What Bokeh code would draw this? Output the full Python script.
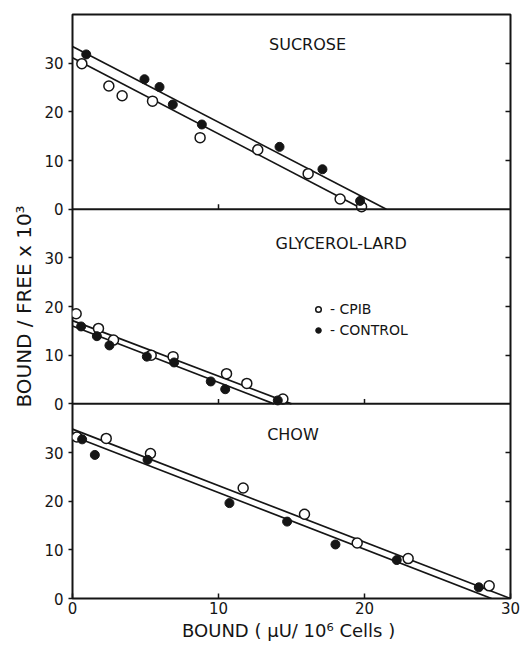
from bokeh.plotting import figure
from bokeh.models import (LinearAxis, Label, Legend, LegendItem, FixedTicker,
                          Range1d, Span)
from bokeh.embed import file_html
from bokeh.resources import INLINE

FONT = "DejaVu Sans"
INK = "#151515"

# ---------------- data ----------------
# SUCROSE
suc_cpib_x = [0.64, 2.49, 3.40, 5.48, 8.74, 12.69, 16.14, 18.33, 19.8]
suc_cpib_y = [29.9, 25.3, 23.3, 22.2, 14.7, 12.2, 7.3, 2.1, 0.5]
suc_ctrl_x = [0.94, 4.93, 5.96, 6.87, 8.86, 14.18, 17.12, 19.70]
suc_ctrl_y = [31.8, 26.7, 25.1, 21.5, 17.4, 12.8, 8.2, 1.7]
suc_cpib_fit_x = [0.0, 19.9]
suc_cpib_fit_y = [31.1, 0.0]
suc_ctrl_fit_x = [0.0, 21.5]
suc_ctrl_fit_y = [33.4, 0.0]

# GLYCEROL-LARD
gly_cpib_x = [0.25, 1.78, 2.81, 5.39, 6.89, 10.55, 11.94, 14.41]
gly_cpib_y = [18.5, 15.5, 13.1, 10.0, 9.7, 6.2, 4.2, 1.0]
gly_ctrl_x = [0.59, 1.67, 2.53, 5.09, 6.96, 9.47, 10.46, 14.06]
gly_ctrl_y = [15.9, 13.9, 12.0, 9.7, 8.5, 4.6, 3.0, 0.7]
gly_cpib_fit_x = [0.0, 15.0]
gly_cpib_fit_y = [17.1, 0.0]
gly_ctrl_fit_x = [0.0, 13.8]
gly_ctrl_fit_y = [16.0, 0.0]

# CHOW
chow_cpib_x = [0.30, 2.31, 5.34, 11.69, 15.89, 19.50, 22.99, 28.54]
chow_cpib_y = [33.2, 32.9, 29.8, 22.7, 17.3, 11.4, 8.2, 2.6]
chow_ctrl_x = [0.66, 1.53, 5.14, 10.75, 14.70, 18.01, 22.21, 27.83]
chow_ctrl_y = [32.7, 29.5, 28.5, 19.6, 15.8, 11.1, 7.9, 2.3]
chow_cpib_fit_x = [0.0, 30.0]
chow_cpib_fit_y = [34.8, 0.0]
chow_ctrl_fit_x = [0.0, 28.7]
chow_ctrl_fit_y = [33.4, 0.0]

y_ticks = [0, 10, 20, 30]
x_ticks = [0, 10, 20, 30]
inner_x_ticks = [10, 20]
panel_names = ["SUCROSE", "GLYCEROL-LARD", "CHOW"]
legend_labels = ["- CPIB", "- CONTROL"]
PANEL_SPAN = 40          # each panel's y axis runs 0..40
N_PANELS = 3
TOTAL = PANEL_SPAN * N_PANELS

p = figure(frame_width=438, frame_height=584,
           x_range=Range1d(0, 30), y_range=Range1d(0, TOTAL),
           output_backend="svg", toolbar_location=None,
           x_axis_location=None, y_axis_location=None,
           min_border_left=72, min_border_right=10,
           min_border_top=14, min_border_bottom=0)
p.grid.visible = False
p.outline_line_color = INK
p.outline_line_width = 2
p.background_fill_color = "white"
p.border_fill_color = "white"

# each panel gets its own y range, stacked from the top
range_names = ["suc", "gly", "chow"]
for i, name in enumerate(range_names):
    below = (N_PANELS - 1 - i) * PANEL_SPAN
    p.extra_y_ranges[name] = Range1d(-below, TOTAL - below)

# left axis: 0,10,20,30 repeated for each panel
left_ticks, left_over = [], {}
for k in range(N_PANELS):
    for t in y_ticks:
        pos = k * PANEL_SPAN + t
        left_ticks.append(pos)
        left_over[pos] = str(t)
la = LinearAxis(ticker=FixedTicker(ticks=left_ticks),
                major_label_overrides=left_over,
                major_tick_out=4, major_tick_in=0,
                minor_tick_out=0, minor_tick_in=0,
                major_tick_line_width=1.5, major_tick_line_color=INK,
                axis_line_color=None,
                major_label_standoff=5,
                major_label_text_font=FONT,
                major_label_text_font_size="15px",
                major_label_text_color=INK,
                axis_label="BOUND / FREE x 10\u00b3",
                axis_label_text_font=FONT,
                axis_label_text_font_size="20px",
                axis_label_text_font_style="normal",
                axis_label_text_color=INK,
                axis_label_standoff=5)
p.add_layout(la, "left")

right_ticks = [t for t in left_ticks if t % PANEL_SPAN != 0]
ra = LinearAxis(ticker=FixedTicker(ticks=right_ticks),
                major_label_overrides={t: "" for t in right_ticks},
                major_tick_out=0, major_tick_in=5,
                minor_tick_out=0, minor_tick_in=0,
                major_tick_line_width=1.5, major_tick_line_color=INK,
                axis_line_color=None, major_label_standoff=0)
p.add_layout(ra, "right")

ba = LinearAxis(ticker=FixedTicker(ticks=x_ticks),
                major_tick_out=0, major_tick_in=5,
                minor_tick_out=0, minor_tick_in=0,
                major_tick_line_width=1.5, major_tick_line_color=INK,
                axis_line_color=None,
                major_label_standoff=3,
                major_label_text_font=FONT,
                major_label_text_font_size="15px",
                major_label_text_color=INK,
                axis_label="BOUND  ( \u03bcU/ 10\u2076 Cells )",
                axis_label_text_font=FONT,
                axis_label_text_font_size="18px",
                axis_label_text_font_style="normal",
                axis_label_text_color=INK,
                axis_label_standoff=3)
p.add_layout(ba, "below")

# panel separators and their inward x ticks
for k in range(1, N_PANELS):
    p.add_layout(Span(location=k * PANEL_SPAN, dimension="width",
                      line_color=INK, line_width=2))
    p.segment(x0=inner_x_ticks, x1=inner_x_ticks,
              y0=[k * PANEL_SPAN] * len(inner_x_ticks),
              y1=[k * PANEL_SPAN + 1.0] * len(inner_x_ticks),
              line_color=INK, line_width=1.5)


def draw(rn, cx, cy, fx, fy, kx, ky, gx, gy):
    p.line(gx, gy, line_color=INK, line_width=1.7, y_range_name=rn)
    p.line(fx, fy, line_color=INK, line_width=1.7, y_range_name=rn)
    ro = p.scatter(cx, cy, marker="circle", size=10, fill_color="white",
                   line_color=INK, line_width=1.5, y_range_name=rn)
    rf = p.scatter(kx, ky, marker="circle", size=9, fill_color=INK,
                   line_color=INK, line_width=1, y_range_name=rn)
    return ro, rf


draw("suc", suc_cpib_x, suc_cpib_y, suc_cpib_fit_x, suc_cpib_fit_y,
     suc_ctrl_x, suc_ctrl_y, suc_ctrl_fit_x, suc_ctrl_fit_y)
g_open, g_fill = draw("gly", gly_cpib_x, gly_cpib_y, gly_cpib_fit_x,
                      gly_cpib_fit_y, gly_ctrl_x, gly_ctrl_y,
                      gly_ctrl_fit_x, gly_ctrl_fit_y)
draw("chow", chow_cpib_x, chow_cpib_y, chow_cpib_fit_x, chow_cpib_fit_y,
     chow_ctrl_x, chow_ctrl_y, chow_ctrl_fit_x, chow_ctrl_fit_y)

label_pos = [(16.1, 33.8), (18.4, 33.0), (15.1, 33.8)]
for name, rn, (lx, ly) in zip(panel_names, range_names, label_pos):
    p.add_layout(Label(x=lx, y=ly, y_range_name=rn, text=name,
                       text_align="center", text_baseline="middle",
                       text_font=FONT, text_font_size="16px",
                       text_color=INK))

leg = Legend(items=[LegendItem(label=legend_labels[0], renderers=[g_open]),
                    LegendItem(label=legend_labels[1], renderers=[g_fill])],
             location=(239, 260), orientation="vertical",
             glyph_width=14, glyph_height=16, spacing=5,
             label_standoff=5, padding=0, margin=0,
             border_line_color=None, background_fill_alpha=0,
             label_text_font=FONT, label_text_font_size="14px",
             label_text_color=INK)
p.add_layout(leg, "center")

open("out.html", "w").write(file_html(p, INLINE))
